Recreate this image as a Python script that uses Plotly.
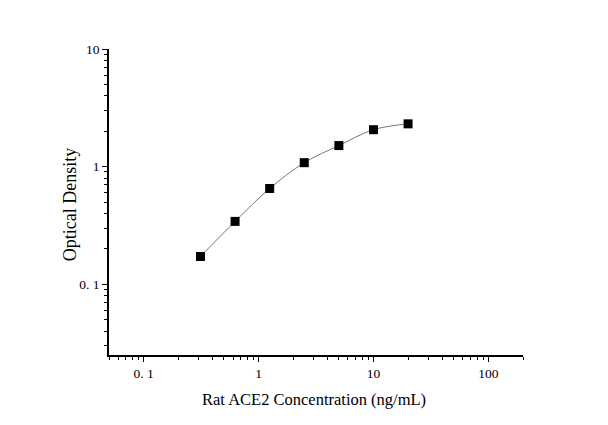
import numpy as np
import plotly.graph_objects as go

# standard curve points
conc = [0.3125, 0.625, 1.25, 2.5, 5, 10, 20]
od = [0.172, 0.342, 0.651, 1.08, 1.51, 2.06, 2.31]

x_ticks = [0.1, 1, 10, 100]
x_labels = ["0. 1", "1", "10", "100"]
y_ticks = [0.1, 1, 10]
y_labels = ["0. 1", "1", "10"]

x_minor = [m * d for d in [0.01, 0.1, 1, 10, 100] for m in range(2, 10)]
y_minor = [m * d for d in [0.01, 0.1, 1] for m in range(2, 10)]

x_title = "Rat ACE2 Concentration (ng/mL)"
y_title = "Optical Density"

FONT = "Liberation Serif"

fig = go.Figure()
fig.add_trace(go.Scatter(
    x=conc, y=od, mode="lines",
    line=dict(color="#777777", width=1, shape="spline", smoothing=1),
    hoverinfo="skip", showlegend=False,
))
fig.add_trace(go.Scatter(
    x=conc, y=od, mode="markers",
    marker=dict(symbol="square", size=9, color="black"),
    showlegend=False,
))

axis_common = dict(
    type="log", showgrid=False, zeroline=False,
    showline=True, linecolor="black", linewidth=1.5,
    ticks="outside", ticklen=5, tickwidth=1.2, tickcolor="black",
    tickfont=dict(family=FONT, size=13.5, color="black"),
)

fig.update_xaxes(
    range=[np.log10(0.05), np.log10(200)],
    tickvals=x_ticks, ticktext=x_labels,
    minor=dict(tickvals=x_minor, ticks="outside", ticklen=3, tickcolor="black", tickwidth=1),
    **axis_common,
)
fig.update_yaxes(
    range=[np.log10(0.025), 1],
    tickvals=y_ticks, ticktext=y_labels,
    minor=dict(tickvals=y_minor, ticks="outside", ticklen=3, tickcolor="black", tickwidth=1),
    **axis_common,
)

# axis titles as annotations so they sit where the original puts them
fig.add_annotation(text=x_title, xref="paper", yref="paper", x=0.495, y=-0.144,
                   xanchor="center", yanchor="middle", showarrow=False,
                   font=dict(family=FONT, size=16.5, color="black"))
fig.add_annotation(text=y_title, xref="paper", yref="paper", x=-0.094, y=0.49,
                   xanchor="center", yanchor="middle", textangle=-90, showarrow=False,
                   font=dict(family=FONT, size=18, color="black"))

fig.update_layout(
    width=608, height=425,
    margin=dict(l=101, r=93, t=41, b=78),
    plot_bgcolor="white", paper_bgcolor="white",
)

fig.write_html("out.html")
